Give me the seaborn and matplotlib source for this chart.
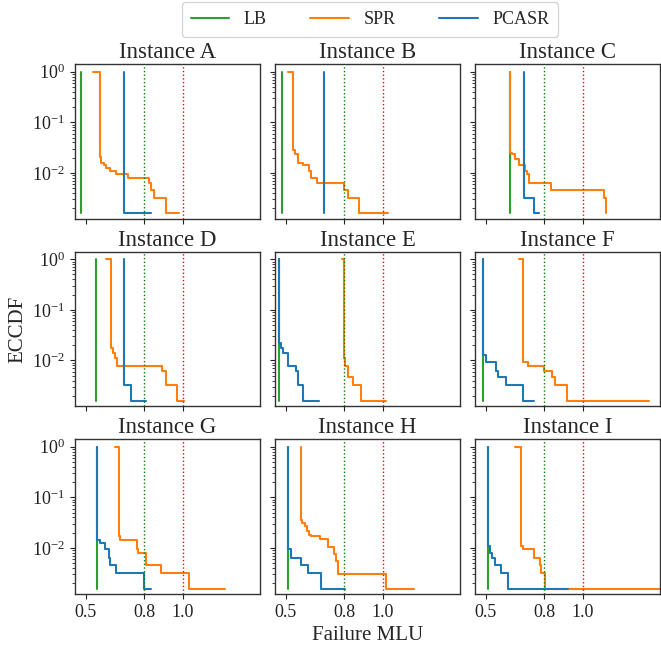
import matplotlib
matplotlib.use("Agg")
import matplotlib.pyplot as plt
import seaborn as sns
import numpy as np
import pandas as pd

# ---------------- data ----------------
instances = ["A", "B", "C", "D", "E", "F", "G", "H", "I"]
methods = ["LB", "SPR", "PCASR"]
colors = {"LB": "#2ca02c", "SPR": "#ff7f0e", "PCASR": "#1f77b4"}

# ECCDF step points (x = failure MLU, y = ECCDF), drawn as steps-post
lb_x = {
    "A": [0.475, 0.475], "B": [0.480, 0.480], "C": [0.623, 0.623],
    "D": [0.555, 0.555], "E": [0.466, 0.466], "F": [0.488, 0.488],
    "G": [0.558, 0.558], "H": [0.514, 0.514], "I": [0.512, 0.512],
}
lb_y = {k: [1.0, 0.00158] for k in instances}

spr_x = {
    "A": [0.538, 0.574, 0.580, 0.594, 0.606, 0.627, 0.656, 0.716, 0.825, 0.834, 0.851, 0.910, 0.978],
    "B": [0.514, 0.539, 0.548, 0.561, 0.590, 0.620, 0.632, 0.662, 0.798, 0.818, 0.874, 1.025],
    "C": [0.623, 0.623, 0.635, 0.649, 0.669, 0.703, 0.712, 0.720, 0.835, 1.109, 1.118],
    "D": [0.602, 0.629, 0.640, 0.651, 0.661, 0.893, 0.910, 0.969, 1.007],
    "E": [0.789, 0.798, 0.805, 0.818, 0.844, 0.889, 1.016],
    "F": [0.669, 0.694, 0.717, 0.801, 0.839, 0.855, 0.920, 1.341],
    "G": [0.651, 0.670, 0.678, 0.761, 0.766, 0.809, 0.888, 1.028, 1.215],
    "H": [0.578, 0.578, 0.586, 0.598, 0.607, 0.619, 0.632, 0.675, 0.717, 0.747, 0.759, 0.768, 1.016, 1.160],
    "I": [0.652, 0.681, 0.691, 0.750, 0.779, 0.784, 0.805, 1.400],
}
spr_y = {
    "A": [1.0, 0.0206, 0.0158, 0.0142, 0.0127, 0.0111, 0.0095, 0.0079, 0.0063, 0.0047, 0.0032, 0.00158, 0.00158],
    "B": [1.0, 0.0285, 0.0237, 0.0158, 0.0142, 0.0111, 0.0079, 0.0063, 0.0047, 0.0032, 0.00158, 0.00158],
    "C": [1.0, 0.0253, 0.0237, 0.0190, 0.0142, 0.0111, 0.0095, 0.0063, 0.0047, 0.0032, 0.00158],
    "D": [1.0, 0.0174, 0.0142, 0.0111, 0.0079, 0.0063, 0.0032, 0.00158, 0.00158],
    "E": [1.0, 0.0111, 0.0079, 0.0047, 0.0032, 0.00158, 0.00158],
    "F": [1.0, 0.0095, 0.0079, 0.0063, 0.0047, 0.0032, 0.00158, 0.00158],
    "G": [1.0, 0.0174, 0.0142, 0.0095, 0.0079, 0.0047, 0.0032, 0.00158, 0.00158],
    "H": [1.0, 0.0364, 0.0316, 0.0269, 0.0214, 0.0184, 0.0170, 0.0153, 0.0104, 0.0077, 0.0054, 0.0030, 0.00158, 0.00158],
    "I": [1.0, 0.0111, 0.0095, 0.0063, 0.0047, 0.0032, 0.00158, 0.00158],
}

pcasr_x = {
    "A": [0.699, 0.699, 0.834],
    "B": [0.696, 0.696],
    "C": [0.696, 0.696, 0.750, 0.774],
    "D": [0.699, 0.699, 0.733, 0.810],
    "E": [0.466, 0.466, 0.475, 0.488, 0.514, 0.553, 0.564, 0.590, 0.669],
    "F": [0.488, 0.488, 0.503, 0.551, 0.563, 0.602, 0.694, 0.750],
    "G": [0.558, 0.558, 0.572, 0.597, 0.619, 0.627, 0.656, 0.800, 0.834],
    "H": [0.514, 0.514, 0.527, 0.581, 0.615, 0.683, 0.807],
    "I": [0.512, 0.512, 0.522, 0.534, 0.546, 0.576, 0.613, 0.923],
}
pcasr_y = {
    "A": [1.0, 0.00158, 0.00158],
    "B": [1.0, 0.00158],
    "C": [1.0, 0.0032, 0.00158, 0.00158],
    "D": [1.0, 0.0032, 0.00158, 0.00158],
    "E": [1.0, 0.0222, 0.0174, 0.0142, 0.0079, 0.0063, 0.0032, 0.00158, 0.00158],
    "F": [1.0, 0.0127, 0.0095, 0.0063, 0.0047, 0.0032, 0.00158, 0.00158],
    "G": [1.0, 0.0142, 0.0127, 0.0095, 0.0063, 0.0047, 0.0032, 0.00158, 0.00158],
    "H": [1.0, 0.0095, 0.0063, 0.0047, 0.0032, 0.00158, 0.00158],
    "I": [1.0, 0.0111, 0.0079, 0.0063, 0.0047, 0.0032, 0.00158, 0.00158],
}

series_x = {"LB": lb_x, "SPR": spr_x, "PCASR": pcasr_x}
series_y = {"LB": lb_y, "SPR": spr_y, "PCASR": pcasr_y}

x_ticks = [0.5, 0.8, 1.0]
x_tick_labels = ["0.5", "0.8", "1.0"]

# ---------------- style ----------------
sns.set_style("ticks")
plt.rcParams["font.family"] = ["Liberation Serif", "DejaVu Serif"]
plt.rcParams["mathtext.fontset"] = "stix"
plt.rcParams["axes.edgecolor"] = "#333333"
plt.rcParams["xtick.color"] = "#222222"
plt.rcParams["ytick.color"] = "#222222"

fig, axes = plt.subplots(3, 3, figsize=(6.61, 6.48), dpi=100, sharex=True, sharey=True)
fig.subplots_adjust(left=75 / 661, right=660 / 661, top=1 - 64 / 648, bottom=1 - 594 / 648,
                    wspace=0.081, hspace=0.21)

handles = []
for idx, inst in enumerate(instances):
    ax = axes[idx // 3, idx % 3]
    for m in methods:
        df = pd.DataFrame({"x": series_x[m][inst], "y": series_y[m][inst]})
        sns.lineplot(data=df, x="x", y="y", ax=ax, color=colors[m], estimator=None,
                     sort=False, drawstyle="steps-post", lw=1.5, label=m, legend=False)
    ax.axvline(0.8, color="green", ls=":", lw=1.0)
    ax.axvline(1.0, color="red", ls=":", lw=1.0)
    ax.set_yscale("log")
    ax.set_title(f"Instance {inst}", fontsize=16.5, pad=4)
    ax.set_xlabel("")
    ax.set_ylabel("")
    for s in ax.spines.values():
        s.set_visible(True)
        s.set_linewidth(1.0)
    if idx == 0:
        handles = ax.get_lines()[:3]

ax0 = axes[0, 0]
ax0.set_xlim(0.445, 1.395)
ax0.set_ylim(10 ** -2.91, 10 ** 0.153)
for ax in axes.flat:
    ax.set_xticks(x_ticks)
    ax.set_xticks([0.8], minor=True)
    ax.tick_params(axis="x", which="minor", length=3.5)
    ax.tick_params(axis="both", which="major", labelsize=13, length=3.5)
    ax.tick_params(axis="y", which="minor", length=2)
for ax in axes[2, :]:
    ax.set_xticklabels(x_tick_labels)
    ax.set_xticklabels(["0.8"], minor=True, fontsize=13)

axes[1, 0].set_ylabel("ECCDF", fontsize=15)
axes[2, 1].set_xlabel("Failure MLU", fontsize=15)

fig.legend(handles, methods, loc="upper center", ncol=3, fontsize=13,
           bbox_to_anchor=(370 / 661, 1.011), frameon=True, handlelength=2.15,
           columnspacing=2.4, borderpad=0.5)

fig.savefig("out.png", dpi=100)
